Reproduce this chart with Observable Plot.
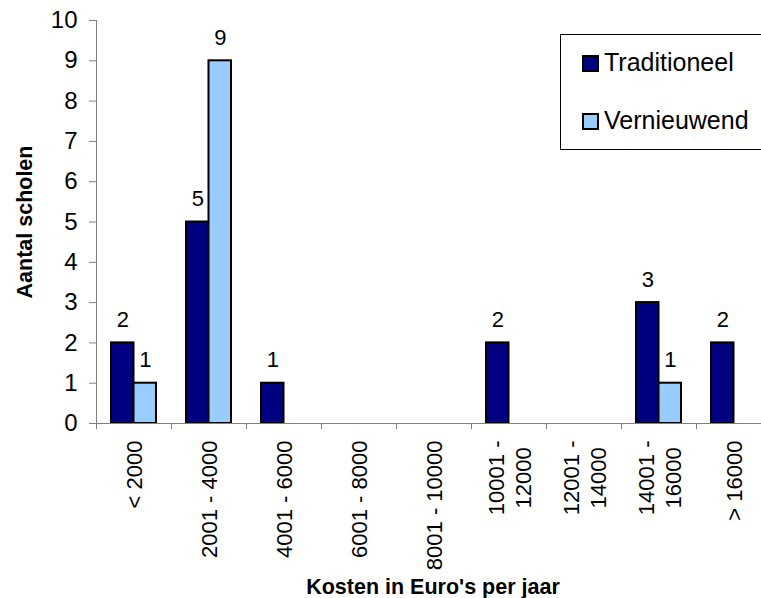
<!DOCTYPE html>
<html>
<head>
<meta charset="utf-8">
<script src="https://cdn.jsdelivr.net/npm/d3@7"></script>
<script src="https://cdn.jsdelivr.net/npm/@observablehq/plot@0.6"></script>
<style>
  body { margin: 0; background: #fff; overflow: hidden; font-family: Arial, "Liberation Sans", sans-serif; }
  #wrap { position: relative; width: 761px; height: 598px; overflow: hidden; }
  .legend { position: absolute; left: 560px; top: 34px; width: 230px; height: 114px; border: 1px solid #000; background: #fff; }
  .item { position: absolute; left: 21px; height: 17px; display: flex; align-items: center; font-size: 25px; color: #000; white-space: nowrap; }
  .sw { width: 13px; height: 13px; border: 2px solid #000; margin-right: 5px; flex: none; }
  .item span.t { position: relative; top: -1px; }
</style>
</head>
<body>
<div id="wrap"></div>
<script>
// ---- data ----
const categories = ["< 2000", "2001 - 4000", "4001 - 6000", "6001 - 8000", "8001 - 10000",
                    "10001 -\n12000", "12001 -\n14000", "14001 -\n16000", "> 16000"];
const series = ["Traditioneel", "Vernieuwend"];
const traditioneel = [2, 5, 1, 0, 0, 2, 0, 3, 2];
const vernieuwend  = [1, 9, 0, 0, 0, 0, 0, 1, 0];
const yTicks = [0, 1, 2, 3, 4, 5, 6, 7, 8, 9, 10];
const colors = ["#000080", "#99CCFF"];
const xTitle = "Kosten in Euro's per jaar";
const yTitle = "Aantal scholen";

// ---- layout ----
const W = 761, H = 598;
const mLeft = 96, mTop = 20, mBottom = 175;
const step = 75, band = 45, half = band / 2;
const axisGray = "#808080";
const font = "Arial, 'Liberation Sans', sans-serif";

const rowsT = categories.map((c, i) => ({cat: c, series: series[0], value: traditioneel[i]})).filter(d => d.value > 0);
const rowsV = categories.map((c, i) => ({cat: c, series: series[1], value: vernieuwend[i]})).filter(d => d.value > 0);

const chart = Plot.plot({
  width: W, height: H,
  marginLeft: mLeft, marginTop: mTop, marginBottom: mBottom, marginRight: 0,
  style: {fontFamily: font, background: "#fff", color: "#000", overflow: "hidden"},
  x: {type: "band", domain: categories, range: [mLeft, mLeft + categories.length * step],
      paddingInner: 0.4, paddingOuter: 0.2},
  y: {domain: [0, 10]},
  marks: [
    Plot.barY(rowsT, {x: "cat", y: "value", fill: colors[0], stroke: "#000", strokeWidth: 2, insetRight: half}),
    Plot.barY(rowsV, {x: "cat", y: "value", fill: colors[1], stroke: "#000", strokeWidth: 2, insetLeft: half}),
    Plot.text(rowsT, {x: "cat", y: "value", text: d => String(d.value), dx: -half / 2, dy: -16,
                      lineAnchor: "bottom", fontSize: 22, fill: "#000"}),
    Plot.text(rowsV, {x: "cat", y: "value", text: d => String(d.value), dx: half / 2, dy: -16,
                      lineAnchor: "bottom", fontSize: 22, fill: "#000"}),
    Plot.ruleY([0], {stroke: axisGray, strokeWidth: 1}),
    Plot.frame({anchor: "left", stroke: axisGray, strokeWidth: 1}),
    Plot.axisY({ticks: yTicks, tickSize: 7, tickPadding: 12, fontSize: 24, stroke: axisGray, fill: "#000", label: null}),
    Plot.axisX({tickSize: 6, tickFormat: () => "", dx: -step / 2, stroke: axisGray, label: null}),
    Plot.axisX({tickSize: 0, tickRotate: -90, tickPadding: 17, textAnchor: "end", lineAnchor: "middle",
                lineHeight: 1.2, fontSize: 22, fill: "#000", label: null}),
    Plot.text([yTitle], {frameAnchor: "left", dx: -71, rotate: -90, fontWeight: "bold", fontSize: 21.5,
                         lineAnchor: "middle", textAnchor: "middle", fill: "#000"}),
    Plot.text([xTitle], {frameAnchor: "bottom", dx: 4, dy: 170, fontWeight: "bold", fontSize: 21.5,
                         lineAnchor: "bottom", textAnchor: "middle", fill: "#000"})
  ]
});

const wrap = document.getElementById("wrap");
wrap.appendChild(chart);

// center the lines of multi-line tick labels relative to each other
chart.querySelectorAll('[aria-label="x-axis tick label"] text').forEach(t => {
  const ts = Array.from(t.querySelectorAll("tspan"));
  if (ts.length < 2) return;
  const L = ts.map(s => s.getComputedTextLength());
  const m = Math.max(...L);
  ts.forEach((s, i) => s.setAttribute("x", -(m - L[i]) / 2));
});

// legend
const leg = document.createElement("div");
leg.className = "legend";
series.forEach((s, i) => {
  const it = document.createElement("div");
  it.className = "item";
  it.style.top = (20 + i * 58) + "px";
  const sw = document.createElement("div");
  sw.className = "sw";
  sw.style.background = colors[i];
  const tx = document.createElement("span");
  tx.className = "t";
  tx.textContent = s;
  it.appendChild(sw); it.appendChild(tx);
  leg.appendChild(it);
});
wrap.appendChild(leg);
</script>
</body>
</html>
